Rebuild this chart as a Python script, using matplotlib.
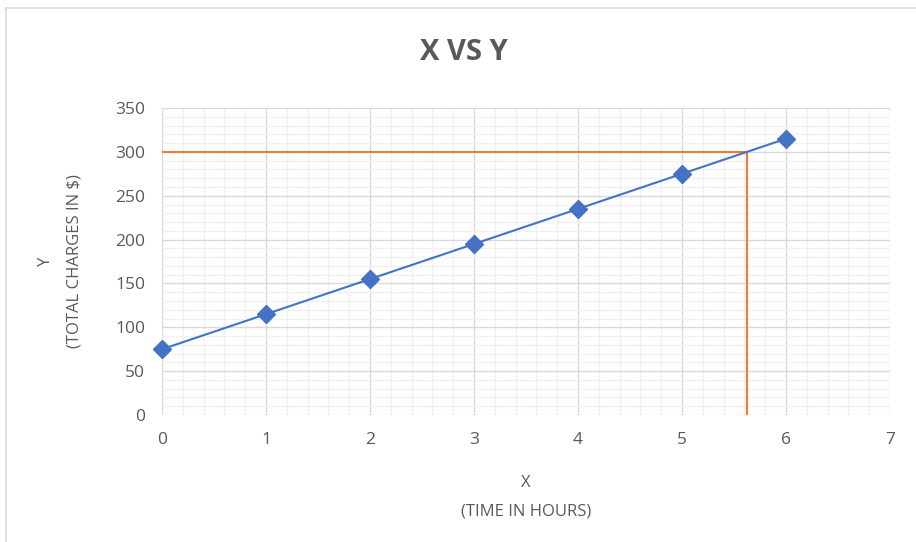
import matplotlib
matplotlib.use("Agg")
import matplotlib.pyplot as plt
from matplotlib.lines import Line2D
from matplotlib.ticker import MultipleLocator

# data
hours = [0, 1, 2, 3, 4, 5, 6]
charges = [75, 115, 155, 195, 235, 275, 315]
target_y = 300
target_x = 5.625

plt.rcParams['font.family'] = ['Liberation Sans Narrow', 'Open Sans', 'DejaVu Sans']
grey = "#595959"

fig = plt.figure(figsize=(9.16, 5.42), dpi=100)
ax = fig.add_axes([0.1769, 0.2343, 0.7947, 0.5664])

ax.plot(hours, charges, color="#4472C4", lw=1.5, marker="D", ms=9,
        markerfacecolor="#4472C4", markeredgecolor="#4472C4", zorder=4, clip_on=False)
ax.plot([0, target_x], [target_y, target_y], color="#ED7D31", lw=1.5, zorder=3)
ax.plot([target_x, target_x], [0, target_y], color="#ED7D31", lw=1.5, zorder=3)

ax.set_xlim(0, 7)
ax.set_ylim(0, 350)
ax.xaxis.set_major_locator(MultipleLocator(1))
ax.xaxis.set_minor_locator(MultipleLocator(0.2))
ax.yaxis.set_major_locator(MultipleLocator(50))
ax.yaxis.set_minor_locator(MultipleLocator(10))
ax.grid(True, which="major", color="#D9D9D9", lw=1.0, zorder=1)
ax.grid(True, which="minor", color="#F0F0F0", lw=1.0, zorder=0)
ax.set_axisbelow(True)
for s in ax.spines.values():
    s.set_visible(False)
ax.tick_params(which="both", length=0, labelsize=12.5, colors=grey)
ax.tick_params(axis="x", pad=12)
ax.tick_params(axis="y", pad=12)

ax.set_xlabel("X\n(TIME IN HOURS)", fontsize=12, color=grey, labelpad=20, linespacing=2.0)
ax.set_ylabel("Y\n(TOTAL CHARGES IN $)", fontsize=12, color=grey, labelpad=24, linespacing=2.0)
fig.text(0.507, 0.903, "X VS Y", ha="center", va="center", fontsize=21,
         fontweight="bold", color=grey)

# chart border (top and left visible)
fig.add_artist(Line2D([6 / 916, 1], [1 - 8 / 542, 1 - 8 / 542], color="#D9D9D9", lw=1.2))
fig.add_artist(Line2D([6 / 916, 6 / 916], [0, 1 - 8 / 542], color="#D9D9D9", lw=1.2))

fig.savefig("out.png", dpi=100)
